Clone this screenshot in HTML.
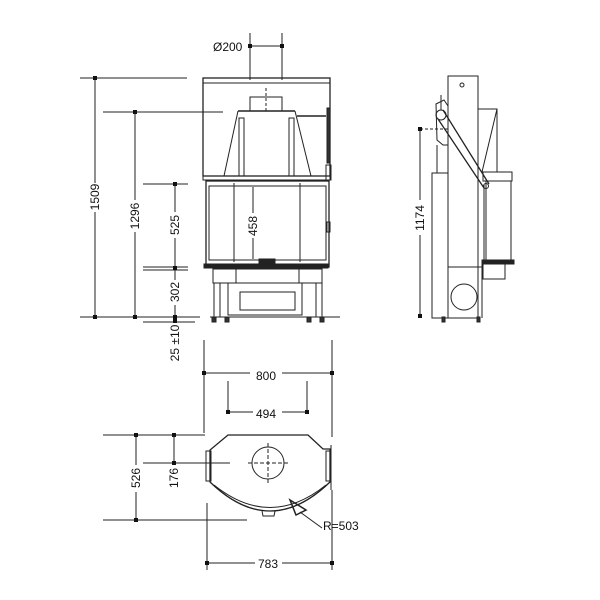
<!DOCTYPE html>
<html><head><meta charset="utf-8"><style>
html,body{margin:0;padding:0;background:#fff;width:600px;height:600px;overflow:hidden}
svg{display:block}
text{font-family:"Liberation Sans",sans-serif;font-size:12px;fill:#111}
</style></head><body>
<svg width="600" height="600" viewBox="0 0 600 600" xmlns="http://www.w3.org/2000/svg">
<g stroke="#222" stroke-width="1" fill="none">
<rect x="203" y="78" width="127" height="98" stroke-width="1.3"/>
<line x1="203" y1="83" x2="330" y2="83"/>
<rect x="250" y="97" width="32" height="14"/>
<line x1="266" y1="88" x2="266" y2="112" stroke-dasharray="3,2"/>
<line x1="238" y1="111" x2="295" y2="111" stroke-width="1.5"/>
<polyline points="238,111 224,176"/>
<polyline points="295,111 311,176"/>
<rect x="239" y="118" width="5" height="58"/>
<rect x="289" y="118" width="5" height="58"/>
<line x1="297" y1="116" x2="326" y2="116" stroke-width="1.5"/>
<rect x="327" y="108" width="3" height="55" fill="#333"/>
<rect x="326" y="165" width="5" height="15"/>
<rect x="203" y="176" width="127" height="4"/>
<rect x="206" y="181" width="123" height="86" stroke-width="1.3"/>
<rect x="209" y="186" width="117" height="74"/>
<line x1="234" y1="183" x2="234" y2="262"/>
<line x1="300" y1="183" x2="300" y2="262"/>
<rect x="327" y="222" width="3" height="10"/>
<rect x="259" y="259" width="16" height="4" fill="#222"/>
<rect x="204" y="264" width="124" height="4" fill="#222"/>
<rect x="213" y="269" width="109" height="14"/>
<line x1="236" y1="269" x2="236" y2="283"/>
<line x1="299" y1="269" x2="299" y2="283"/>
<line x1="214" y1="283" x2="214" y2="317"/><line x1="220" y1="283" x2="220" y2="317"/>
<line x1="316" y1="283" x2="316" y2="317"/><line x1="322" y1="283" x2="322" y2="317"/>
<rect x="228" y="283" width="74" height="32"/>
<rect x="240" y="292" width="55" height="18"/>
<line x1="210" y1="317" x2="340" y2="317"/>
<rect x="212" y="317" width="4" height="5" fill="#333"/><rect x="225" y="317" width="4" height="5" fill="#333"/>
<rect x="307" y="317" width="4" height="5" fill="#333"/><rect x="320" y="317" width="4" height="5" fill="#333"/>
<line x1="250" y1="33" x2="250" y2="80"/><line x1="282" y1="33" x2="282" y2="80"/>
<line x1="250" y1="46" x2="282" y2="46"/>
<line x1="80" y1="78" x2="187" y2="78"/>
<line x1="95" y1="78" x2="95" y2="183"/><line x1="95" y1="212" x2="95" y2="317"/>
<line x1="103" y1="112" x2="223" y2="112"/>
<line x1="135" y1="112" x2="135" y2="200"/><line x1="135" y1="232" x2="135" y2="317"/>
<line x1="143" y1="184" x2="188" y2="184"/>
<line x1="175" y1="184" x2="175" y2="212"/><line x1="175" y1="238" x2="175" y2="268"/>
<line x1="143" y1="267" x2="188" y2="267"/><line x1="143" y1="270" x2="188" y2="270"/>
<line x1="175" y1="268" x2="175" y2="280"/><line x1="175" y1="305" x2="175" y2="317"/>
<line x1="80" y1="317" x2="200" y2="317"/><line x1="143" y1="322" x2="195" y2="322"/>
<line x1="253" y1="187" x2="253" y2="213"/><line x1="253" y1="238" x2="253" y2="259"/>
<rect x="448" y="76" width="30" height="242"/>
<circle cx="462" cy="85" r="2"/>
<rect x="432" y="173" width="16" height="145"/>
<line x1="448" y1="267" x2="482" y2="267"/>
<line x1="482" y1="260" x2="482" y2="318"/>
<circle cx="464" cy="297" r="13"/>
<polyline points="478,109 497,109 497,172"/>
<line x1="497" y1="109" x2="482" y2="172"/>
<rect x="483" y="172" width="29" height="9"/>
<rect x="486" y="181" width="25" height="79"/>
<line x1="484" y1="185" x2="484" y2="262"/>
<rect x="482" y="260" width="32" height="4" fill="#222"/>
<rect x="483" y="264" width="22" height="15"/>
<path d="M436 104 L444 100 L448 106 L448 145 L443 145 L437 140 Z"/>
<line x1="437" y1="145" x2="437" y2="173"/>
<line x1="441" y1="110" x2="441" y2="95"/>
<circle cx="441" cy="115" r="5"/>
<line x1="443" y1="110" x2="489" y2="184" stroke-width="1.3"/>
<line x1="438" y1="119" x2="484" y2="188" stroke-width="1.3"/>
<circle cx="486" cy="186" r="2.5"/>
<rect x="442" y="317" width="3" height="5" fill="#333"/><rect x="477" y="317" width="3" height="5" fill="#333"/>
<line x1="420" y1="129" x2="420" y2="200"/><line x1="420" y1="235" x2="420" y2="316"/>
<line x1="420" y1="129" x2="448" y2="129" stroke-dasharray="3,2"/>
<line x1="204" y1="340" x2="204" y2="433"/><line x1="332" y1="340" x2="332" y2="437"/>
<line x1="204" y1="373" x2="250" y2="373"/><line x1="282" y1="373" x2="332" y2="373"/>
<line x1="228" y1="381" x2="228" y2="412"/><line x1="307" y1="381" x2="307" y2="412"/>
<line x1="228" y1="412" x2="253" y2="412"/><line x1="282" y1="412" x2="307" y2="412"/>
<path d="M228 435 L308 435 L323 449 L330 449 L330 482 Q270 540 210 482 L210 450 Z" stroke-width="1.3"/>
<path d="M214 485 Q270 530 326 485"/>
<rect x="206" y="451" width="5" height="30"/>
<rect x="326" y="451" width="5" height="30"/>
<line x1="331" y1="445" x2="331" y2="490"/>
<circle cx="268" cy="463" r="16"/>
<line x1="248" y1="463" x2="288" y2="463" stroke-dasharray="4,2"/>
<line x1="268" y1="443" x2="268" y2="485" stroke-dasharray="4,2"/>
<path d="M262 511 L263 516 L274 516 L275 511"/>
<line x1="103" y1="435" x2="205" y2="435"/>
<line x1="136" y1="435" x2="136" y2="465"/><line x1="136" y1="492" x2="136" y2="520"/>
<line x1="174" y1="435" x2="174" y2="463"/>
<line x1="143" y1="463" x2="230" y2="463"/>
<line x1="103" y1="520" x2="247" y2="520"/>
<line x1="207" y1="503" x2="207" y2="570"/><line x1="332" y1="490" x2="332" y2="570"/>
<line x1="207" y1="563" x2="255" y2="563"/><line x1="282" y1="563" x2="332" y2="563"/>
<path d="M290 500 L306 510 L296 515 Z" stroke-width="1.5"/>
<line x1="300" y1="512" x2="322" y2="528"/>
</g>
<g fill="#111">
<rect x="248" y="44" width="4" height="4"/><rect x="280" y="44" width="4" height="4"/>
<rect x="93" y="76" width="4" height="4"/><rect x="93" y="315" width="4" height="4"/>
<rect x="133" y="110" width="4" height="4"/><rect x="133" y="315" width="4" height="4"/>
<rect x="173" y="182" width="4" height="4"/><rect x="173" y="266" width="4" height="4"/>
<rect x="173" y="315" width="4" height="8"/>
<rect x="418" y="127" width="4" height="4"/><rect x="418" y="314" width="4" height="4"/>
<rect x="202" y="371" width="4" height="4"/><rect x="330" y="371" width="4" height="4"/>
<rect x="226" y="410" width="4" height="4"/><rect x="305" y="410" width="4" height="4"/>
<rect x="134" y="433" width="4" height="4"/><rect x="172" y="433" width="4" height="4"/>
<rect x="172" y="461" width="4" height="4"/><rect x="134" y="518" width="4" height="4"/>
<rect x="205" y="561" width="4" height="4"/><rect x="330" y="561" width="4" height="4"/>
</g>
<text x="213" y="51">Ø200</text>
<text x="256" y="380">800</text>
<text x="256" y="418">494</text>
<text x="258" y="568">783</text>
<text x="323" y="530">R=503</text>
<text transform="translate(99,197) rotate(-90)" text-anchor="middle">1509</text>
<text transform="translate(139,216) rotate(-90)" text-anchor="middle">1296</text>
<text transform="translate(179,225) rotate(-90)" text-anchor="middle">525</text>
<text transform="translate(179,292) rotate(-90)" text-anchor="middle">302</text>
<text transform="translate(179,343) rotate(-90)" text-anchor="middle">25 ±10</text>
<text transform="translate(257,226) rotate(-90)" text-anchor="middle">458</text>
<text transform="translate(424,218) rotate(-90)" text-anchor="middle">1174</text>
<text transform="translate(140,478) rotate(-90)" text-anchor="middle">526</text>
<text transform="translate(178,478) rotate(-90)" text-anchor="middle">176</text>
</svg>
</body></html>
